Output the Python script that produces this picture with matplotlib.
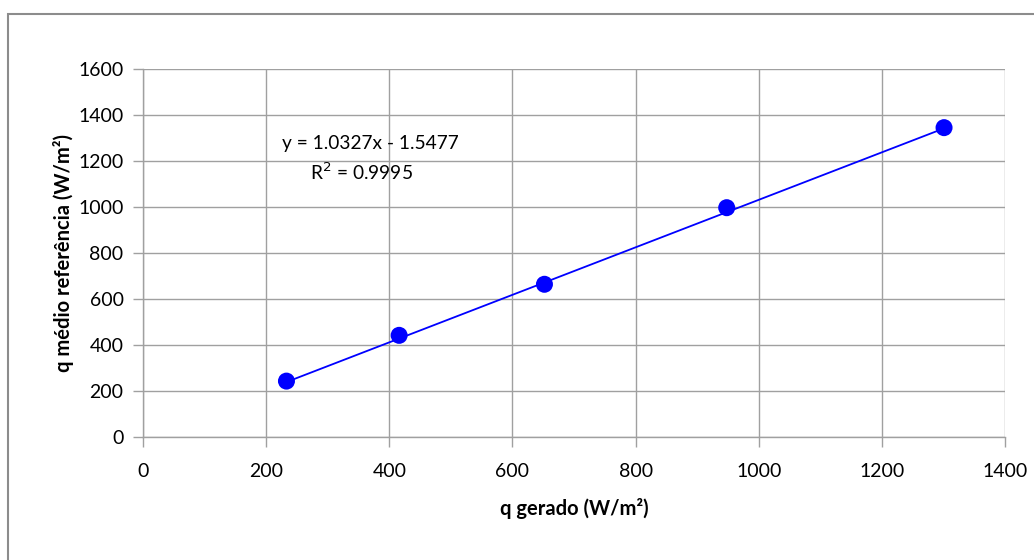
import matplotlib.pyplot as plt
from matplotlib.patches import Rectangle
import numpy as np

plt.rcParams["font.family"] = ["Lato", "DejaVu Sans"]

# dados
q_gerado = [233, 416, 652, 948, 1301]
q_medio = [243, 442, 664, 997, 1345]
slope = 1.0327
intercept = -1.5477
r2 = 0.9995

x_ticks = [0, 200, 400, 600, 800, 1000, 1200, 1400]
y_ticks = [0, 200, 400, 600, 800, 1000, 1200, 1400, 1600]

fig = plt.figure(figsize=(10.34, 5.6), dpi=100)
ax = fig.add_axes([143 / 1034, 1 - 437 / 560, (1005 - 143) / 1034, (437 - 69) / 560])

# moldura do gráfico (só topo e esquerda visíveis)
fig.patches.append(Rectangle((8 / 1034, -0.1), 1.2, 1 - 14 / 560 + 0.1,
                             transform=fig.transFigure, fill=False,
                             edgecolor='#8c8c8c', linewidth=1.5))

# linha de tendência
xt = np.array([min(q_gerado), max(q_gerado)])
ax.plot(xt, slope * xt + intercept, color='#0000ff', linewidth=1.3, zorder=3)
ax.scatter(q_gerado, q_medio, s=150, color='#0000ff', zorder=4, edgecolors='none')

ax.set_xlim(0, 1400)
ax.set_ylim(0, 1600)
ax.set_xticks(x_ticks)
ax.set_yticks(y_ticks)
ax.grid(True, color='#a0a0a0', linewidth=1)
ax.set_axisbelow(True)
for s in ['top', 'right']:
    ax.spines[s].set_visible(False)
for s in ['left', 'bottom']:
    ax.spines[s].set_color('#a0a0a0')
    ax.spines[s].set_linewidth(1)
ax.tick_params(direction='out', length=7, width=1, color='#a0a0a0',
               labelsize=14, pad=7)
ax.tick_params(axis='x', pad=12)

ax.set_xlabel('q gerado (W/m²)', fontsize=14.5, fontweight='bold', labelpad=13)
ax.set_ylabel('q médio referência (W/m²)', fontsize=14.5, fontweight='bold', labelpad=3)

ax.text(370, 1278, 'y = %.4fx - %.4f' % (slope, -intercept), fontsize=13.8,
        ha='center', va='center')
ax.text(355, 1150, 'R$^2$ = %.4f' % r2, fontsize=13.8, ha='center', va='center')

plt.savefig('out.png', dpi=100)
